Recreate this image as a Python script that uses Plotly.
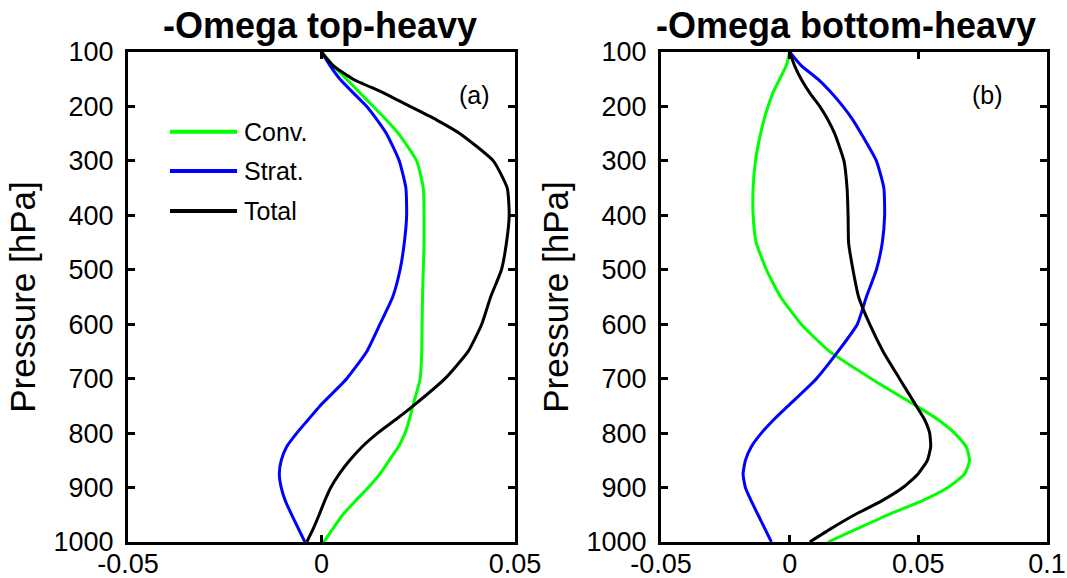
import plotly.graph_objects as go
from plotly.subplots import make_subplots

# Pressure levels [hPa]
pressure = [100, 125, 150, 175, 200, 225, 250, 300, 350, 400, 450, 500, 550, 600,
            650, 700, 750, 775, 800, 825, 850, 875, 900, 925, 950, 975, 1000]

# (a) top-heavy
top_conv = [0.0, 0.003, 0.0065, 0.0099, 0.0134, 0.0168, 0.0199, 0.0246, 0.0263, 0.0265,
            0.0265, 0.0263, 0.0261, 0.026, 0.0259, 0.0255, 0.0236, 0.0227, 0.0216, 0.0199,
            0.0175, 0.0151, 0.0121, 0.0087, 0.0055, 0.003, 0.0006]
top_strat = [0.0, 0.0022, 0.0048, 0.0082, 0.0117, 0.0144, 0.0168, 0.0201, 0.0218, 0.022,
             0.0214, 0.0203, 0.0184, 0.0151, 0.0117, 0.0065, -0.0004, -0.0034, -0.0064, -0.009,
             -0.0104, -0.0109, -0.0104, -0.0093, -0.0077, -0.006, -0.0043]
top_total = [0.0, 0.003, 0.0082, 0.016, 0.0229, 0.0298, 0.0358, 0.0444, 0.048, 0.0485,
             0.0478, 0.0465, 0.0437, 0.0414, 0.0379, 0.0319, 0.0237, 0.0192, 0.0145, 0.0105,
             0.0073, 0.0046, 0.0024, 0.0008, -0.0006, -0.0021, -0.0038]

# (b) bottom-heavy
bot_conv = [0.0, -0.0013, -0.0039, -0.0065, -0.0084, -0.01, -0.0113, -0.0133, -0.0142, -0.0142,
            -0.013, -0.009, -0.0035, 0.0045, 0.0155, 0.0317, 0.0492, 0.0576, 0.0641, 0.0686,
            0.0699, 0.068, 0.0615, 0.0512, 0.0382, 0.0265, 0.0149]
bot_strat = [0.0, 0.0045, 0.011, 0.0162, 0.0207, 0.0246, 0.0278, 0.0337, 0.0366, 0.0369,
             0.036, 0.0337, 0.0298, 0.0263, 0.0188, 0.0104, -0.0006, -0.0061, -0.011, -0.0149,
             -0.0172, -0.0181, -0.0172, -0.0149, -0.0123, -0.0097, -0.0071]
bot_total = [0.0, 0.0019, 0.0045, 0.0078, 0.0117, 0.0149, 0.0175, 0.0211, 0.0223, 0.0227,
             0.0229, 0.0246, 0.0268, 0.0311, 0.0363, 0.0427, 0.0492, 0.0524, 0.0544, 0.0548,
             0.0535, 0.0499, 0.044, 0.0356, 0.0253, 0.0162, 0.0078]

series_names = ["Conv.", "Strat.", "Total"]
series_colors = ["#00FF00", "#0000FF", "#000000"]
panel_titles = ["-Omega top-heavy", "-Omega bottom-heavy"]
panel_labels = ["(a)", "(b)"]
y_ticks = [100, 200, 300, 400, 500, 600, 700, 800, 900, 1000]
x_ticks_a = [-0.05, 0, 0.05]
x_ticktext_a = ["-0.05", "0", "0.05"]
x_ticks_b = [-0.05, 0, 0.05, 0.1]
x_ticktext_b = ["-0.05", "0", "0.05", "0.1"]

FONT = "Liberation Sans, Arial, Helvetica, sans-serif"

fig = make_subplots(rows=1, cols=2)

for col, data in ((1, (top_conv, top_strat, top_total)), (2, (bot_conv, bot_strat, bot_total))):
    for name, color, vals in zip(series_names, series_colors, data):
        fig.add_trace(go.Scatter(x=vals, y=pressure, mode="lines", name=name,
                                 line=dict(color=color, width=3, shape="spline", smoothing=0.5),
                                 showlegend=False),
                      row=1, col=col)

axis_common = dict(showline=True, linecolor="black", linewidth=3, mirror="ticks",
                   ticks="inside", ticklen=7, tickwidth=3, tickcolor="black",
                   showgrid=False, zeroline=False, automargin=False,
                   tickfont=dict(family=FONT, size=27, color="black"))

fig.update_xaxes(axis_common)
fig.update_yaxes(axis_common)

fig.update_layout(
    xaxis=dict(domain=[0.11996, 0.48266], range=[-0.05, 0.05], tickvals=x_ticks_a,
               ticktext=x_ticktext_a, ticklabelstandoff=-4),
    xaxis2=dict(domain=[0.61949, 0.98126], range=[-0.05, 0.1], tickvals=x_ticks_b,
                ticktext=x_ticktext_b, ticklabelstandoff=-4),
    yaxis=dict(domain=[0.06228, 0.91003], range=[1000, 100], tickvals=y_ticks,
               ticklabelstandoff=6,
               title=dict(text="Pressure [hPa]", font=dict(family=FONT, size=35, color="black"),
                          standoff=8)),
    yaxis2=dict(domain=[0.06228, 0.91003], range=[1000, 100], tickvals=y_ticks,
                ticklabelstandoff=6,
                title=dict(text="Pressure [hPa]", font=dict(family=FONT, size=35, color="black"),
                           standoff=8)),
    width=1067, height=578,
    margin=dict(l=0, r=0, t=0, b=0, autoexpand=False),
    plot_bgcolor="white", paper_bgcolor="white",
    showlegend=False,
)

# Titles
for xc, title in zip([0.2999, 0.7929], panel_titles):
    fig.add_annotation(x=xc, y=0.956, xref="paper", yref="paper", text="<b>%s</b>" % title,
                       showarrow=False, xanchor="center", yanchor="middle",
                       font=dict(family=FONT, size=36, color="black"))

# Panel labels
for ax, xd, lab in (("x", 0.8966, panel_labels[0]), ("x2", 0.847, panel_labels[1])):
    fig.add_annotation(x=xd, y=0.912, xref=ax + " domain", yref="y domain", text=lab,
                       showarrow=False, xanchor="center", yanchor="middle",
                       font=dict(family=FONT, size=25, color="black"))

# Manual legend in panel (a)
legend_y = [0.837, 0.757, 0.6755]
for name, color, ly in zip(series_names, series_colors, legend_y):
    fig.add_shape(type="line", xref="x domain", yref="y domain", x0=0.1085, x1=0.2817,
                  y0=ly, y1=ly, line=dict(color=color, width=4))
    fig.add_annotation(x=0.2946, y=ly, xref="x domain", yref="y domain", text=name,
                       showarrow=False, xanchor="left", yanchor="middle",
                       font=dict(family=FONT, size=25, color="black"))

fig.write_html("out.html", config={"displayModeBar": False},
               post_script="document.body.style.margin='0';document.body.style.padding='0';")
